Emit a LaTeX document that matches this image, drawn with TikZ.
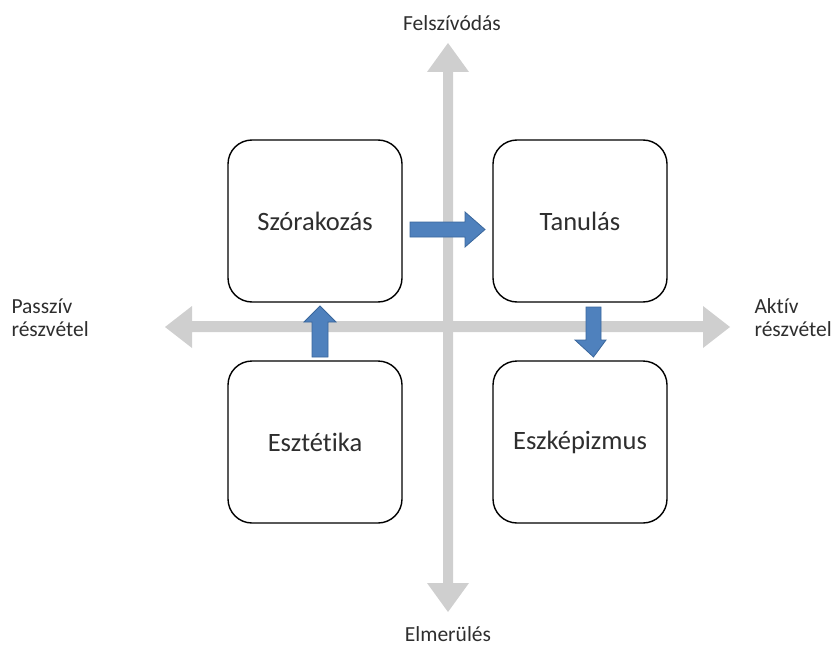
\documentclass[tikz,border=0pt]{standalone}
\usepackage{fontspec}
\setmainfont[Ligatures=NoCommon]{Carlito}
\definecolor{axisgray}{HTML}{CFCFCF}
\definecolor{blockblue}{HTML}{4F81BD}
\definecolor{blockedge}{HTML}{3A679C}
\definecolor{txt}{HTML}{2E2E2E}
\begin{document}
\begin{tikzpicture}[x=1pt,y=-1pt,
  box/.style={draw=black,line width=1.4pt,rounded corners=24pt,fill=white,minimum width=174pt,minimum height=162pt,font=\fontsize{26.5}{30}\selectfont,text=txt},
  lbl/.style={font=\fontsize{21.5}{23}\selectfont,text=txt},
  axis/.style={fill=axisgray,draw=none},
  barrow/.style={fill=blockblue,draw=blockedge,line width=0.8pt,line join=miter}]
\useasboundingbox (0,0) rectangle (834,647);
% axes
\fill[axis] (448,43) -- (469,72) -- (453,72) -- (453,583) -- (469,583) -- (448,612) -- (427,583) -- (443,583) -- (443,72) -- (427,72) -- cycle;
\fill[axis] (165,327) -- (192,306) -- (192,321) -- (703,321) -- (703,306) -- (730,327) -- (703,348) -- (703,332) -- (192,332) -- (192,348) -- cycle;
% boxes
\node[box] (sz) at (315,221) {Szórakozás};
\node[box] (ta) at (580,221) {Tanulás};
\node[box] (es) at (315,442) {Esztétika};
\node[box] (ek) at (580,442) {Eszképizmus};
% block arrows
\draw[barrow] (410,222) -- (465,222) -- (465,212) -- (485,229.5) -- (465,247) -- (465,237) -- (410,237) -- cycle;
\draw[barrow] (312,357) -- (312,322) -- (304,322) -- (320,306) -- (336,322) -- (328,322) -- (328,357) -- cycle;
\draw[barrow] (586,307) -- (601,307) -- (601,340) -- (606,340) -- (593.5,357) -- (575,340) -- (586,340) -- cycle;
% labels
\node[lbl] (top) at (452,23) {Felszívódás};
\node[lbl] (bot) at (448,634) {Elmerülés};
\node[lbl,align=left,anchor=west] (left) at (8,318) {Passzív\\részvétel};
\node[lbl,align=left,anchor=west] (right) at (751,318) {Aktív\\részvétel};
\end{tikzpicture}
\end{document}
